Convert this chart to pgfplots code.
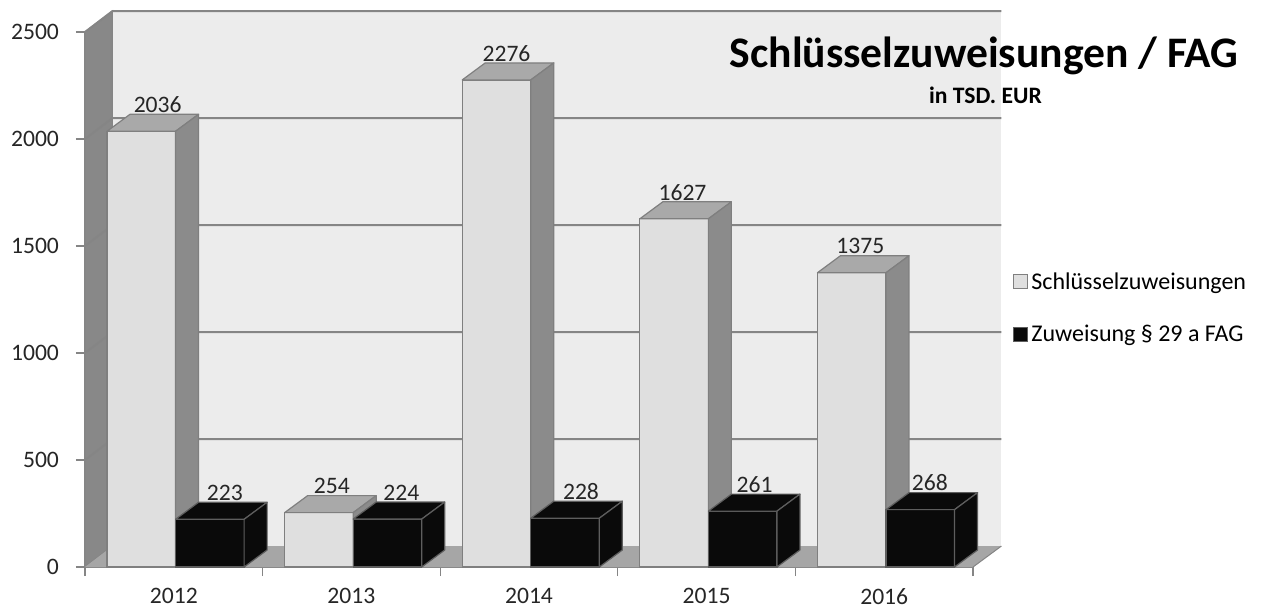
\documentclass[border=0pt]{standalone}
\usepackage{pgfplots}
\pgfplotsset{compat=1.18}
\usepackage{pgfplotstable}
\usepackage{fontspec}
\setmainfont{Carlito}

\definecolor{wallback}{HTML}{ECECEC}
\definecolor{wallside}{HTML}{888888}
\definecolor{floorc}{HTML}{A6A6A6}
\definecolor{gridc}{HTML}{858585}
\definecolor{lfront}{HTML}{DFDFDF}
\definecolor{ltop}{HTML}{A9A9A9}
\definecolor{lside}{HTML}{8B8B8B}
\definecolor{dfront}{HTML}{0A0A0A}
\definecolor{edgec}{HTML}{7F7F7F}
\definecolor{dedge}{HTML}{5E5E5E}

% x: category, s: Schluesselzuweisungen, z: Zuweisung 29a FAG
% ls, zs: horizontal label offsets (pt)
\pgfplotstableread{
x s z ls zs
0 2036 223 -8.05 25.5
1 254 224 -9.75 25.0
2 2276 228 -11.25 26.0
3 1627 261 -12.05 24.0
4 1375 268 -11.95 22.8
}\data

% front, top and side face of a 3D bar, drawn around its top-front-centre point
\newcommand\barfaces[4]{%
  \begin{scope}
  \pgfmathsetmacro\hh{\val*0.107}%
  \pgfmathsetmacro\hb{8.5-\hh}%
  \filldraw[fill=#1, draw=#4, line width=0.6pt] (-17.14pt,-\hh pt) rectangle (17.14pt,0pt);
  \filldraw[fill=#2, draw=#4, line width=0.6pt, line join=round] (-17.14pt,0pt) -- (17.14pt,0pt) -- (28.64pt,8.5pt) -- (-5.64pt,8.5pt) -- cycle;
  \filldraw[fill=#3, draw=#4, line width=0.6pt, line join=round] (17.14pt,0pt) -- (28.64pt,8.5pt) -- (28.64pt,\hb pt) -- (17.14pt,-\hh pt) -- cycle;
  \pgfsetfillopacity{0}\pgfsetstrokeopacity{0}%
}

\begin{document}
\begin{tikzpicture}
\begin{axis}[
  x=88.8pt, y=0.107pt,
  xmin=-0.5, xmax=4.5, ymin=0, ymax=2500,
  clip=false,
  axis lines*=left,
  axis line style={draw=gridc, line width=0.6pt},
  ytick={0,500,...,2500},
  xtick={-0.5,0.5,...,4.5},
  xticklabels={},
  extra x ticks={0,1,2,3,4},
  extra x tick labels={2012,2013,2014,2015,2016},
  extra x tick style={major tick length=0pt},
  tick align=outside,
  major tick length=4.5pt,
  every tick/.style={draw=gridc, line width=0.6pt},
  ticklabel style={font=\fontsize{11.8}{13}\selectfont, text=black!85},
  yticklabel style={xshift=-5pt},
  xticklabel style={yshift=-7pt},
  /pgf/number format/1000 sep={},
  /pgf/number format/assume math mode=true,
  legend cell align=left,
  legend style={at={(axis cs:4.725,1208)}, anchor=west, draw=none, fill=none,
    font=\fontsize{12}{14}\selectfont, row sep=13.5pt, inner sep=0pt,
    nodes={inner sep=1.5pt}},
]
% bounding box of the whole picture
\path (axis cs:-0.9786,-200.9) rectangle (axis cs:6.1554,2649.5);

% walls and floor
\addplot[forget plot, fill=wallside, draw=gridc, line width=0.6pt] coordinates {(-0.5,0) (-0.5,2500) (-0.345,2598) (-0.345,98)} -- cycle;
\addplot[forget plot, fill=wallback, draw=none] coordinates {(-0.345,98) (4.66,98) (4.66,2598) (-0.345,2598)} -- cycle;
\addplot[forget plot, fill=floorc, draw=none] coordinates {(-0.5,0) (4.5,0) (4.66,98) (-0.345,98)} -- cycle;
\addplot[forget plot, draw=gridc, line width=0.5pt] coordinates {(4.5,0) (4.66,98)};

% gridlines on the walls
\addplot[forget plot, draw=gridc, line width=1pt] coordinates {(-0.5,500) (-0.345,598) (4.66,598)};
\addplot[forget plot, draw=gridc, line width=1pt] coordinates {(-0.5,1000) (-0.345,1098) (4.66,1098)};
\addplot[forget plot, draw=gridc, line width=1pt] coordinates {(-0.5,1500) (-0.345,1598) (4.66,1598)};
\addplot[forget plot, draw=gridc, line width=1pt] coordinates {(-0.5,2000) (-0.345,2098) (4.66,2098)};
\addplot[forget plot, draw=gridc, line width=1pt] coordinates {(-0.5,2500) (-0.345,2598) (4.66,2598)};

% Schluesselzuweisungen
\addplot[ybar, bar width=0.386, bar shift=-0.183, fill=lfront, draw=edgec, line width=0.6pt,
  visualization depends on={\thisrow{ls}\as\lsh},
  nodes near coords,
  nodes near coords style={anchor=south, inner sep=0pt, xshift=\lsh pt, yshift=9pt,
     font=\fontsize{11.8}{13}\selectfont, text=black!85},
  legend image code/.code={\draw[fill=lfront, draw=edgec, line width=0.5pt] (0pt,-3.2pt) rectangle (7pt,3.8pt);}]
  table[x=x, y=s] {\data};
\addlegendentry{Schlüsselzuweisungen}
\addplot[forget plot, scatter, only marks, mark=*, mark size=0.2pt,
  visualization depends on={\thisrow{s}\as\val},
  scatter/@pre marker code/.code={\barfaces{lfront}{ltop}{lside}{edgec}},
  scatter/@post marker code/.code={\end{scope}}]
  table[x expr=\thisrow{x}-0.183, y=s] {\data};

% Zuweisung 29 a FAG
\addplot[ybar, bar width=0.386, bar shift=0.203, fill=dfront, draw=dedge, line width=0.6pt,
  visualization depends on={\thisrow{zs}\as\zsh},
  nodes near coords,
  nodes near coords style={anchor=south, inner sep=0pt, xshift=\zsh pt, yshift=9pt,
     font=\fontsize{11.8}{13}\selectfont, text=black!85},
  legend image code/.code={\draw[fill=dfront, draw=dedge, line width=0.5pt] (0pt,-3.2pt) rectangle (7pt,3.8pt);}]
  table[x=x, y=z] {\data};
\addlegendentry{Zuweisung § 29 a FAG}
\addplot[forget plot, scatter, only marks, mark=*, mark size=0.2pt,
  visualization depends on={\thisrow{z}\as\val},
  scatter/@pre marker code/.code={\barfaces{dfront}{dfront}{dfront}{dedge}},
  scatter/@post marker code/.code={\end{scope}}]
  table[x expr=\thisrow{x}+0.203, y=z] {\data};

% titles
\node[anchor=base, font=\fontsize{21.8}{25}\selectfont\bfseries, inner sep=0pt] at (axis cs:4.562,2336) {Schlüsselzuweisungen / FAG};
\node[anchor=base, font=\fontsize{11.8}{13}\selectfont\bfseries, inner sep=0pt] at (axis cs:4.57,2164) {in TSD. EUR};
\end{axis}
\end{tikzpicture}
\end{document}
